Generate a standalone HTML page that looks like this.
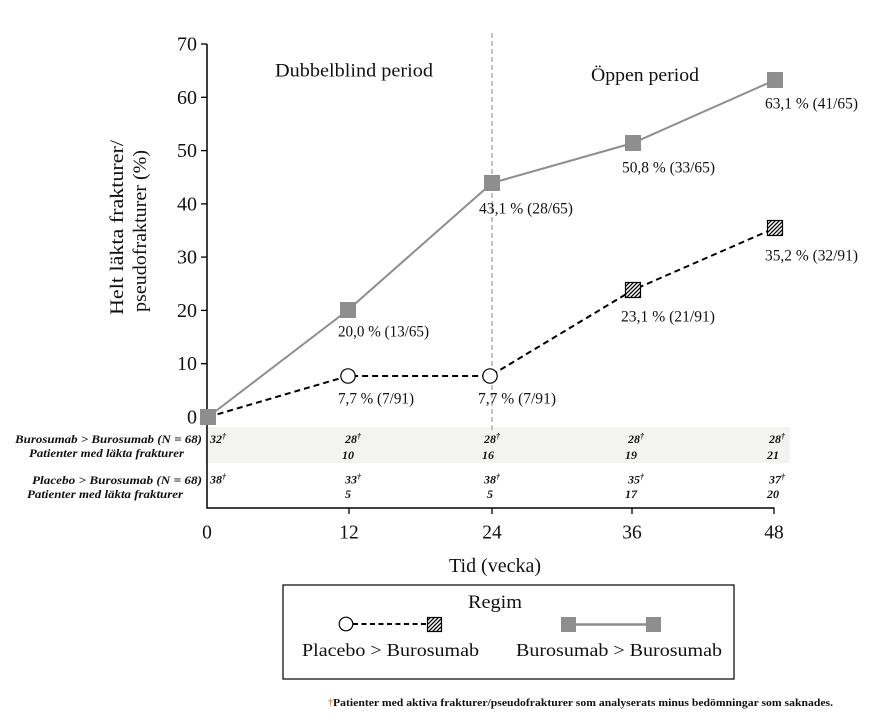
<!DOCTYPE html>
<html><head><meta charset="utf-8"><style>
html,body{margin:0;padding:0;background:#fff;}
svg{display:block;}
text{font-family:"Liberation Serif",serif;fill:#111;}
.it{font-style:italic;font-weight:bold;font-size:12px;}
</style></head><body>
<svg width="872" height="728" viewBox="0 0 872 728" xmlns="http://www.w3.org/2000/svg">
<defs>
<pattern id="h" patternUnits="userSpaceOnUse" width="4" height="4">
<rect width="4" height="4" fill="#fff"/>
<path d="M-1,1 l2,-2 M0,4 l4,-4 M3,5 l2,-2" stroke="#000" stroke-width="1.3"/>
</pattern>
</defs>
<!-- table band -->
<rect x="205" y="427" width="585" height="36" fill="#f3f3f2"/>
<!-- dashed vertical line -->
<line x1="492" y1="33" x2="492" y2="430" stroke="#888" stroke-width="1" stroke-dasharray="5,3"/>
<!-- axes -->
<line x1="207" y1="44" x2="207" y2="508.5" stroke="#000" stroke-width="1.5"/>
<line x1="206.3" y1="508" x2="774.5" y2="508" stroke="#000" stroke-width="1.5"/>
<g stroke="#000" stroke-width="1.3">
<line x1="201" y1="44" x2="207" y2="44"/>
<line x1="201" y1="97.3" x2="207" y2="97.3"/>
<line x1="201" y1="150.6" x2="207" y2="150.6"/>
<line x1="201" y1="203.9" x2="207" y2="203.9"/>
<line x1="201" y1="257.1" x2="207" y2="257.1"/>
<line x1="201" y1="310.4" x2="207" y2="310.4"/>
<line x1="201" y1="363.7" x2="207" y2="363.7"/>
<line x1="201" y1="417" x2="207" y2="417"/>
<line x1="349" y1="508" x2="349" y2="514"/>
<line x1="492" y1="508" x2="492" y2="514"/>
<line x1="632" y1="508" x2="632" y2="514"/>
<line x1="774" y1="508" x2="774" y2="514"/>
</g>
<g font-size="20" text-anchor="end">
<text x="197" y="50.5">70</text>
<text x="197" y="103.8">60</text>
<text x="197" y="157.1">50</text>
<text x="197" y="210.4">40</text>
<text x="197" y="263.6">30</text>
<text x="197" y="316.9">20</text>
<text x="197" y="370.2">10</text>
<text x="197" y="423.5">0</text>
</g>
<g font-size="19.5" text-anchor="middle">
<text x="207" y="538.5">0</text>
<text x="349" y="538.5">12</text>
<text x="492" y="538.5">24</text>
<text x="632" y="538.5">36</text>
<text x="774" y="538.5">48</text>
</g>
<text x="449" y="572" font-size="19.5" textLength="92" lengthAdjust="spacingAndGlyphs">Tid (vecka)</text>
<text transform="translate(123,227.5) rotate(-90)" font-size="19" text-anchor="middle" textLength="175" lengthAdjust="spacingAndGlyphs">Helt läkta frakturer/</text>
<text transform="translate(146,231) rotate(-90)" font-size="19" text-anchor="middle" textLength="162" lengthAdjust="spacingAndGlyphs">pseudofrakturer (%)</text>
<text x="275" y="76.5" font-size="19" textLength="158" lengthAdjust="spacingAndGlyphs">Dubbelblind period</text>
<text x="591" y="81" font-size="19" textLength="108" lengthAdjust="spacingAndGlyphs">Öppen period</text>

<!-- gray series -->
<polyline points="208,417 348,310 492,183 633,143 775,80" fill="none" stroke="#8e8e8e" stroke-width="2"/>
<!-- dashed series -->
<polyline points="208,417 348,376 490,376 633,290 775,228" fill="none" stroke="#000" stroke-width="2" stroke-dasharray="6,4"/>
<g fill="#8e8e8e">
<rect x="200" y="409" width="16" height="16"/>
<rect x="340" y="302" width="16" height="16"/>
<rect x="484" y="175" width="16" height="16"/>
<rect x="625" y="135" width="16" height="16"/>
<rect x="767" y="72" width="16" height="16"/>
</g>
<circle cx="348" cy="376" r="7.2" fill="#fff" stroke="#000" stroke-width="1.2"/>
<circle cx="490" cy="376" r="7.2" fill="#fff" stroke="#000" stroke-width="1.2"/>
<rect x="625.5" y="282.5" width="15" height="15" fill="url(#h)" stroke="#000" stroke-width="1.2"/>
<rect x="767.5" y="220.5" width="15" height="15" fill="url(#h)" stroke="#000" stroke-width="1.2"/>

<g font-size="15.5">
<text x="338" y="336.5" textLength="91" lengthAdjust="spacingAndGlyphs">20,0 % (13/65)</text>
<text x="338" y="403.5" textLength="76" lengthAdjust="spacingAndGlyphs">7,7 % (7/91)</text>
<text x="478" y="403.5" textLength="78" lengthAdjust="spacingAndGlyphs">7,7 % (7/91)</text>
<text x="479" y="213.5" textLength="94" lengthAdjust="spacingAndGlyphs">43,1 % (28/65)</text>
<text x="622" y="172.5" textLength="93" lengthAdjust="spacingAndGlyphs">50,8 % (33/65)</text>
<text x="765" y="108.5" textLength="93" lengthAdjust="spacingAndGlyphs">63,1 % (41/65)</text>
<text x="621" y="321.5" textLength="94" lengthAdjust="spacingAndGlyphs">23,1 % (21/91)</text>
<text x="765" y="260.5" textLength="93" lengthAdjust="spacingAndGlyphs">35,2 % (32/91)</text>
</g>

<!-- table labels -->
<text class="it" x="15" y="443" textLength="187" lengthAdjust="spacingAndGlyphs">Burosumab &gt; Burosumab (N = 68)</text>
<text class="it" x="29" y="457" textLength="155" lengthAdjust="spacingAndGlyphs">Patienter med läkta frakturer</text>
<text class="it" x="32" y="484" textLength="170" lengthAdjust="spacingAndGlyphs">Placebo &gt; Burosumab (N = 68)</text>
<text class="it" x="27" y="498" textLength="156" lengthAdjust="spacingAndGlyphs">Patienter med läkta frakturer</text>
<g class="it" font-size="13">
<text x="210" y="443">32<tspan font-size="8" dy="-4">†</tspan></text>
<text x="345" y="443">28<tspan font-size="8" dy="-4">†</tspan></text>
<text x="484" y="443">28<tspan font-size="8" dy="-4">†</tspan></text>
<text x="628" y="443">28<tspan font-size="8" dy="-4">†</tspan></text>
<text x="769" y="443">28<tspan font-size="8" dy="-4">†</tspan></text>
<text x="342" y="459">10</text>
<text x="482" y="459">16</text>
<text x="625" y="459">19</text>
<text x="767" y="459">21</text>
<text x="210" y="483.5">38<tspan font-size="8" dy="-4">†</tspan></text>
<text x="345" y="483.5">33<tspan font-size="8" dy="-4">†</tspan></text>
<text x="484" y="483.5">38<tspan font-size="8" dy="-4">†</tspan></text>
<text x="628" y="483.5">35<tspan font-size="8" dy="-4">†</tspan></text>
<text x="769" y="483.5">37<tspan font-size="8" dy="-4">†</tspan></text>
<text x="345" y="498">5</text>
<text x="487" y="498">5</text>
<text x="625" y="498">17</text>
<text x="767" y="498">20</text>
</g>

<!-- legend -->
<rect x="283" y="585" width="451" height="94" fill="#fff" stroke="#000" stroke-width="1.2"/>
<text x="468" y="608" font-size="19" textLength="54" lengthAdjust="spacingAndGlyphs">Regim</text>
<line x1="353" y1="624" x2="427" y2="624" stroke="#000" stroke-width="2" stroke-dasharray="5,3.5"/>
<circle cx="346" cy="624" r="6.8" fill="#fff" stroke="#000" stroke-width="1.2"/>
<rect x="427.5" y="617.5" width="14" height="14" fill="url(#h)" stroke="#000" stroke-width="1.2"/>
<line x1="569" y1="624.5" x2="653" y2="624.5" stroke="#8e8e8e" stroke-width="2.5"/>
<rect x="561" y="617" width="15" height="15" fill="#8e8e8e"/>
<rect x="646" y="617" width="15" height="15" fill="#8e8e8e"/>
<text x="302" y="656" font-size="17.5" textLength="177" lengthAdjust="spacingAndGlyphs">Placebo &gt; Burosumab</text>
<text x="516" y="656" font-size="17.5" textLength="206" lengthAdjust="spacingAndGlyphs">Burosumab &gt; Burosumab</text>

<!-- footnote -->
<text x="328" y="706" font-size="10" style="fill:#e0883a;font-weight:bold">†</text>
<text x="333" y="706" font-size="11" font-weight="bold" textLength="500" lengthAdjust="spacingAndGlyphs">Patienter med aktiva frakturer/pseudofrakturer som analyserats minus bedömningar som saknades.</text>
</svg>
</body></html>
